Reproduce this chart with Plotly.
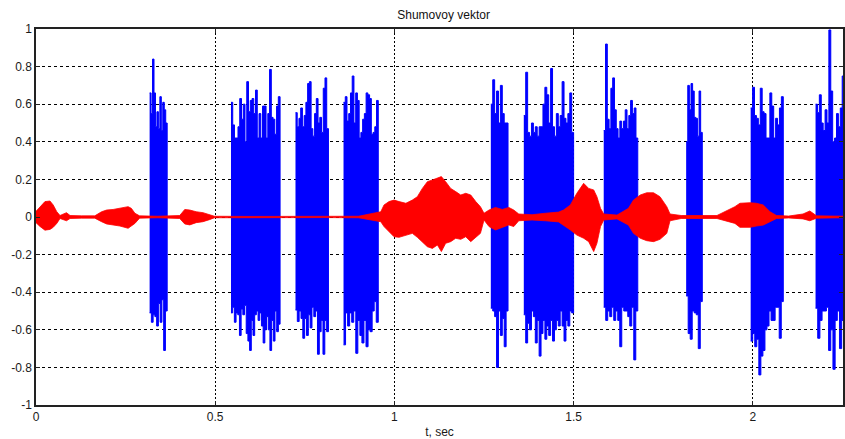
import plotly.graph_objects as go

# ---------------- data ----------------
# blue bursts: start/end time (s), upper and lower peak readings (evenly spaced across the burst)
burst_start = [0.317, 0.544, 0.724, 0.858, 1.269, 1.361, 1.584, 1.814, 1.994, 2.175]
burst_end = [0.366, 0.681, 0.816, 0.955, 1.317, 1.500, 1.679, 1.859, 2.085, 2.260]
burst_top = [
    [0.66, 0.55, 0.84, 0.66, 0.48, 0.56, 0.47, 0.64, 0.46, 0.61, 0.57, 0.50],
    [0.61, 0.49, 0.42, 0.42, 0.48, 0.63, 0.52, 0.60, 0.40, 0.72, 0.56, 0.62, 0.63, 0.55,
     0.675, 0.42, 0.55, 0.42, 0.59, 0.59, 0.42, 0.55, 0.785, 0.53, 0.52, 0.44, 0.59, 0.64],
    [0.555, 0.48, 0.525, 0.58, 0.48, 0.54, 0.61, 0.71, 0.72, 0.47, 0.43, 0.55, 0.63, 0.50,
     0.53, 0.45, 0.685, 0.74, 0.47],
    [0.61, 0.64, 0.51, 0.55, 0.66, 0.75, 0.50, 0.66, 0.62, 0.42, 0.45, 0.52, 0.55, 0.66,
     0.65, 0.63, 0.44, 0.45, 0.48, 0.62],
    [0.60, 0.73, 0.55, 0.67, 0.50, 0.70, 0.55, 0.50, 0.50],
    [0.54, 0.77, 0.45, 0.43, 0.50, 0.45, 0.48, 0.43, 0.48, 0.48, 0.60, 0.69, 0.65, 0.50,
     0.79, 0.48, 0.43, 0.55, 0.48, 0.54, 0.72, 0.525, 0.50, 0.55, 0.66, 0.45],
    [0.46, 0.92, 0.52, 0.47, 0.685, 0.74, 0.57, 0.47, 0.42, 0.51, 0.47, 0.51, 0.57, 0.47,
     0.54, 0.62, 0.55, 0.58, 0.42],
    [0.40, 0.70, 0.57, 0.71, 0.67, 0.53, 0.525, 0.43, 0.67, 0.45],
    [0.58, 0.69, 0.54, 0.525, 0.49, 0.685, 0.56, 0.55, 0.42, 0.42, 0.66, 0.59, 0.42, 0.525,
     0.49, 0.58, 0.64],
    [0.60, 0.555, 0.65, 0.50, 0.46, 0.57, 0.50, 0.995, 0.67, 0.40, 0.42, 0.55, 0.48, 0.58,
     0.75, 0.50],
]
burst_bottom = [
    [-0.51, -0.56, -0.52, -0.53, -0.58, -0.46, -0.56, -0.44, -0.71, -0.50],
    [-0.51, -0.48, -0.56, -0.51, -0.52, -0.63, -0.49, -0.52, -0.47, -0.62, -0.66, -0.71,
     -0.55, -0.63, -0.52, -0.50, -0.55, -0.51, -0.58, -0.67, -0.60, -0.53, -0.60, -0.71,
     -0.55, -0.66, -0.50, -0.61, -0.57],
    [-0.495, -0.556, -0.50, -0.54, -0.645, -0.54, -0.63, -0.52, -0.59, -0.48, -0.53, -0.50,
     -0.73, -0.61, -0.55, -0.73, -0.55, -0.61],
    [-0.68, -0.51, -0.58, -0.51, -0.56, -0.50, -0.725, -0.55, -0.63, -0.67, -0.55, -0.69,
     -0.60, -0.61, -0.50, -0.45, -0.56],
    [-0.485, -0.50, -0.53, -0.80, -0.50, -0.63, -0.54, -0.69, -0.50],
    [-0.52, -0.67, -0.565, -0.60, -0.50, -0.53, -0.67, -0.55, -0.74, -0.62, -0.55, -0.65,
     -0.58, -0.63, -0.55, -0.66, -0.60, -0.55, -0.58, -0.50, -0.58, -0.66, -0.55, -0.58,
     -0.50, -0.51],
    [-0.48, -0.55, -0.50, -0.53, -0.48, -0.55, -0.50, -0.55, -0.69, -0.48, -0.50, -0.50,
     -0.53, -0.58, -0.48, -0.76, -0.50],
    [-0.42, -0.62, -0.65, -0.50, -0.51, -0.52, -0.70, -0.45],
    [-0.66, -0.62, -0.69, -0.65, -0.84, -0.74, -0.71, -0.60, -0.58, -0.50, -0.55, -0.55,
     -0.48, -0.48, -0.645, -0.45],
    [-0.485, -0.645, -0.55, -0.50, -0.50, -0.48, -0.71, -0.60, -0.81, -0.55, -0.50, -0.70,
     -0.55, -0.50],
]

# red noise signal: envelope readings (time, upper, lower)
red_t = [0.000, 0.011, 0.025, 0.039, 0.048, 0.058, 0.067, 0.085, 0.095, 0.127, 0.164,
         0.183, 0.197, 0.215, 0.234, 0.257, 0.266, 0.276, 0.289, 0.340, 0.401, 0.415,
         0.429, 0.447, 0.466, 0.484, 0.498, 0.600, 0.700, 0.800, 0.900, 0.962, 0.971,
         0.985, 0.999, 1.013, 1.032, 1.050, 1.064, 1.078, 1.092, 1.106, 1.120, 1.131,
         1.143, 1.157, 1.171, 1.185, 1.199, 1.213, 1.227, 1.240, 1.250, 1.264, 1.282,
         1.301, 1.319, 1.333, 1.347, 1.384, 1.421, 1.458, 1.472, 1.491, 1.509, 1.528,
         1.542, 1.556, 1.565, 1.575, 1.584, 1.621, 1.653, 1.667, 1.686, 1.704, 1.723,
         1.741, 1.760, 1.769, 1.800, 1.850, 1.900, 1.950, 1.964, 1.992, 2.010, 2.029,
         2.048, 2.066, 2.100, 2.140, 2.159, 2.178, 2.220, 2.260]
red_hi = [0.030, 0.055, 0.082, 0.085, 0.064, 0.028, 0.008, 0.023, 0.008, 0.006, 0.006,
          0.028, 0.037, 0.040, 0.046, 0.055, 0.046, 0.020, 0.006, 0.004, 0.008, 0.040,
          0.037, 0.028, 0.023, 0.010, 0.004, 0.003, 0.004, 0.003, 0.004, 0.028, 0.064,
          0.082, 0.090, 0.082, 0.073, 0.090, 0.108, 0.152, 0.188, 0.197, 0.206, 0.215,
          0.188, 0.152, 0.135, 0.117, 0.126, 0.117, 0.082, 0.055, 0.020, 0.037, 0.051,
          0.040, 0.051, 0.037, 0.016, 0.012, 0.020, 0.026, 0.037, 0.064, 0.126, 0.179,
          0.152, 0.144, 0.108, 0.046, 0.016, 0.010, 0.046, 0.090, 0.117, 0.129, 0.129,
          0.108, 0.055, 0.016, 0.008, 0.008, 0.008, 0.055, 0.073, 0.076, 0.073, 0.064,
          0.028, 0.008, 0.005, 0.016, 0.032, 0.006, 0.004, 0.004]
red_lo = [-0.030, -0.050, -0.070, -0.066, -0.055, -0.034, -0.008, -0.020, -0.008, -0.006,
          -0.006, -0.025, -0.037, -0.042, -0.048, -0.060, -0.050, -0.034, -0.006, -0.004,
          -0.008, -0.037, -0.042, -0.030, -0.025, -0.014, -0.004, -0.003, -0.004, -0.003,
          -0.004, -0.025, -0.051, -0.078, -0.105, -0.108, -0.096, -0.087, -0.108, -0.131,
          -0.158, -0.167, -0.149, -0.184, -0.140, -0.131, -0.113, -0.119, -0.105, -0.131,
          -0.108, -0.087, -0.016, -0.051, -0.069, -0.055, -0.042, -0.051, -0.020, -0.016,
          -0.020, -0.026, -0.043, -0.069, -0.096, -0.113, -0.131, -0.184, -0.140, -0.051,
          -0.016, -0.010, -0.043, -0.087, -0.113, -0.126, -0.131, -0.119, -0.087, -0.020,
          -0.008, -0.008, -0.008, -0.034, -0.055, -0.055, -0.048, -0.043, -0.025, -0.008,
          -0.005, -0.010, -0.020, -0.006, -0.004, -0.004]

x_ticks = [0, 0.5, 1, 1.5, 2]
x_tick_labels = ["0", "0.5", "1", "1.5", "2"]
y_ticks = [-1, -0.8, -0.6, -0.4, -0.2, 0, 0.2, 0.4, 0.6, 0.8, 1]
y_tick_labels = ["-1", "-0.8", "-0.6", "-0.4", "-0.2", "0", "0.2", "0.4", "0.6", "0.8", "1"]


def step_path(t0, t1, vals):
    n = len(vals)
    edges = [t0 + (t1 - t0) * i / n for i in range(n + 1)]
    xs, ys = [], []
    for i, v in enumerate(vals):
        xs += [edges[i], edges[i + 1]]
        ys += [v, v]
    return xs, ys


fig = go.Figure()

for t0, t1, tops, bots in zip(burst_start, burst_end, burst_top, burst_bottom):
    xt, yt = step_path(t0, t1, tops)
    xb, yb = step_path(t0, t1, bots)
    fig.add_trace(go.Scatter(
        x=xt + xb[::-1], y=yt + yb[::-1], mode="lines", fill="toself",
        fillcolor="#0000FF", line=dict(color="#0000FF", width=1),
        hoverinfo="skip", showlegend=False))

fig.add_trace(go.Scatter(
    x=red_t + red_t[::-1], y=red_hi + red_lo[::-1], mode="lines", fill="toself",
    fillcolor="#FF0000", line=dict(color="#FF0000", width=0.8),
    hoverinfo="skip", showlegend=False))

axis_font = dict(family="Liberation Sans, Arial, sans-serif", size=12, color="#1a1a1a")

fig.update_layout(
    width=845, height=439,
    margin=dict(l=36, r=0, t=29, b=34),
    paper_bgcolor="white", plot_bgcolor="white",
    title=dict(text="Shumovoy vektor", x=0.525, xanchor="center", y=1 - 15 / 439,
               yref="container", yanchor="middle",
               font=dict(family="Liberation Sans, Arial, sans-serif", size=12, color="#111")),
    xaxis=dict(range=[0, 2.2516], tickvals=x_ticks, ticktext=x_tick_labels,
               showgrid=True, gridcolor="black", griddash="2px,2px", gridwidth=1,
               zeroline=False, showline=True, linecolor="#222", linewidth=1.5,
               mirror="ticks", ticks="inside", ticklen=4, tickcolor="#222",
               tickfont=axis_font,
               title=dict(text="t, sec", font=axis_font, standoff=4)),
    yaxis=dict(range=[-1, 1], tickvals=y_ticks, ticktext=y_tick_labels,
               showgrid=True, gridcolor="black", griddash="3px,3px", gridwidth=1,
               zeroline=False, showline=True, linecolor="#222", linewidth=1.5,
               mirror="ticks", ticks="inside", ticklen=4, tickcolor="#222",
               tickfont=axis_font),
)

fig.write_html("out.html")
